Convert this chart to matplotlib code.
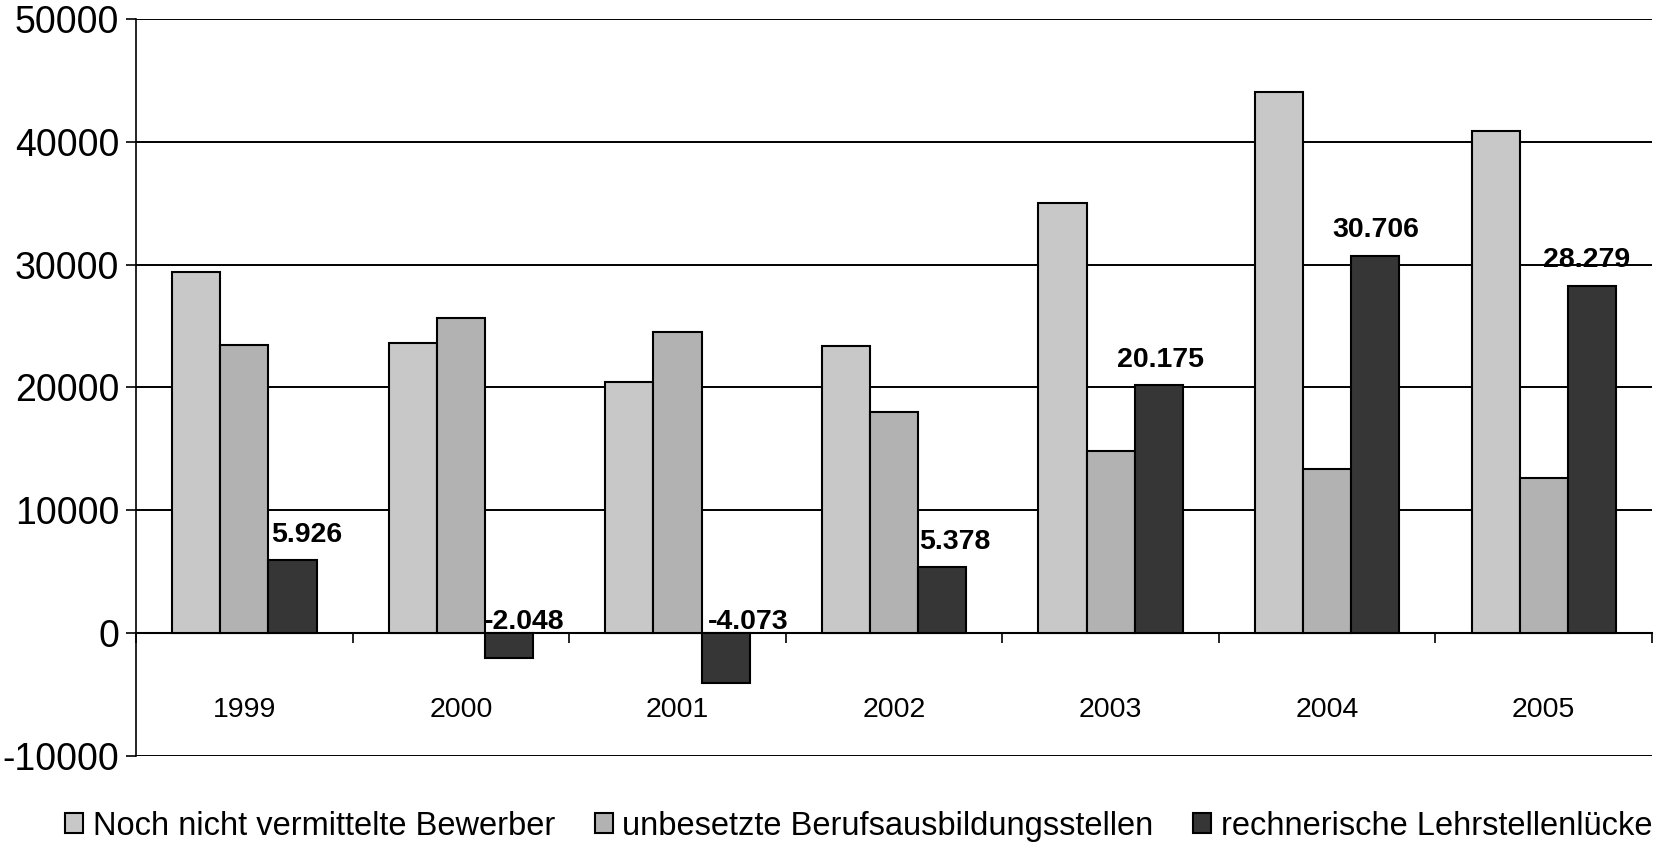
import matplotlib.pyplot as plt
import numpy as np

plt.rcParams['font.family'] = ['Liberation Sans', 'DejaVu Sans']
plt.rcParams['axes.unicode_minus'] = False

# Daten
jahre = ["1999", "2000", "2001", "2002", "2003", "2004", "2005"]
bewerber = [29365, 23642, 20462, 23383, 35015, 44084, 40914]
stellen = [23439, 25690, 24535, 18005, 14840, 13378, 12635]
luecke = [5926, -2048, -4073, 5378, 20175, 30706, 28279]
luecke_labels = ["5.926", "-2.048", "-4.073", "5.378", "20.175", "30.706", "28.279"]

serien = [
    ("Noch nicht vermittelte Bewerber", bewerber, "#c8c8c8"),
    ("unbesetzte Berufsausbildungsstellen", stellen, "#b2b2b2"),
    ("rechnerische Lehrstellenlücke", luecke, "#363636"),
]

# Verschiebung der Beschriftungen (Punkte), wie im Original von Hand gesetzt
label_dx = [10, 11, 16, 9, 1, 0, -4]

fig = plt.figure(figsize=(16.61, 8.43), dpi=100)
ax = fig.add_axes([0.0819, 0.1032, 0.9127, 0.8743])

x = np.arange(len(jahre))
breite = 2 / 3 / 3
for i, (name, werte, farbe) in enumerate(serien):
    ax.bar(x + (i - 1) * breite, werte, breite, color=farbe, edgecolor="black",
           linewidth=1.5, label=name, zorder=3)

# Datenbeschriftung der Lücke
for xi, wert, txt, dx in zip(x + breite, luecke, luecke_labels, label_dx):
    dy = 9 if wert > 0 else -1
    ax.annotate(txt, (xi, max(wert, 0)), xytext=(dx, dy), textcoords="offset points",
                ha="center", va="bottom", fontsize=20.5, fontweight="bold", zorder=4)

ax.set_xlim(-0.5, len(jahre) - 0.5)
ax.set_ylim(-10000, 50000)
ax.set_yticks(range(-10000, 50001, 10000))
ax.yaxis.grid(True, color="black", linewidth=1.4, zorder=0)
ax.tick_params(axis="y", labelsize=27, length=7, width=1.2, pad=5)

ax.spines["top"].set_visible(False)
ax.spines["right"].set_visible(False)
ax.spines["left"].set_linewidth(1.2)
ax.spines["bottom"].set_position(("data", 0))
ax.spines["bottom"].set_linewidth(1.5)

ax.set_xticks(x)
ax.set_xticklabels(jahre)
ax.set_xticks(np.arange(-0.5, len(jahre), 1), minor=True)
ax.tick_params(axis="x", which="major", length=0, pad=46, labelsize=20.5)
ax.tick_params(axis="x", which="minor", length=7, width=1.2)

fig.legend(loc="center", bbox_to_anchor=(0.517, 0.02), ncol=3, frameon=False,
           fontsize=23.5, handlelength=0.55, handleheight=0.55, handletextpad=0.3,
           columnspacing=1.2, borderpad=0)

plt.savefig("out.png", dpi=100)
